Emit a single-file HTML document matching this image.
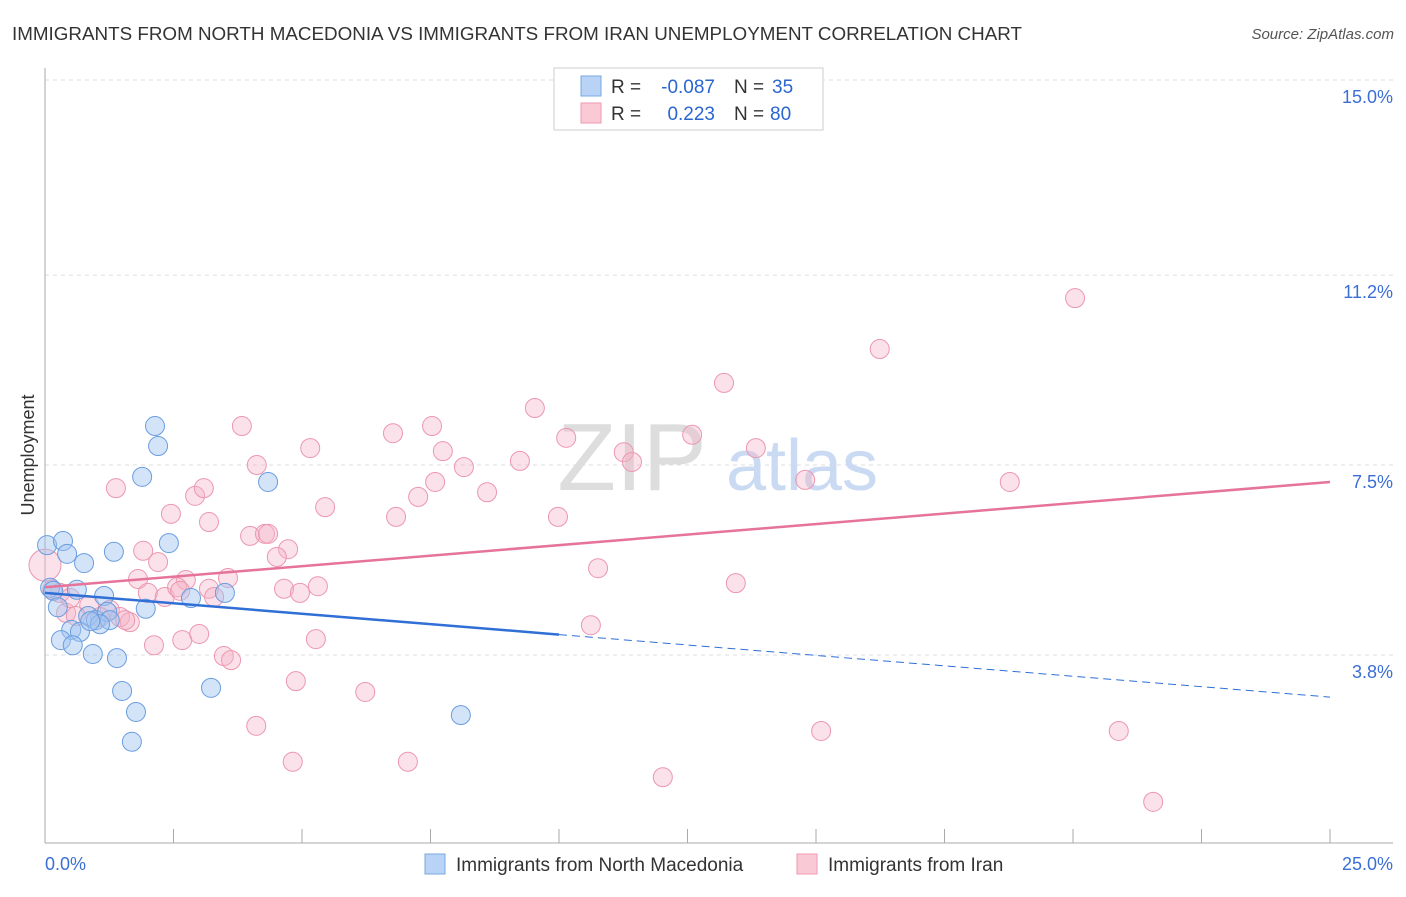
<!DOCTYPE html>
<html><head><meta charset="utf-8"><style>
body{margin:0;background:#fff;font-family:"Liberation Sans",sans-serif;}
svg text{font-family:"Liberation Sans",sans-serif;}
</style></head><body>
<svg width="1406" height="892" xmlns="http://www.w3.org/2000/svg">
<text x="12" y="40" font-size="18" fill="#333" textLength="1010" lengthAdjust="spacingAndGlyphs">IMMIGRANTS FROM NORTH MACEDONIA VS IMMIGRANTS FROM IRAN UNEMPLOYMENT CORRELATION CHART</text>
<text x="1394" y="39" font-size="15" fill="#555" text-anchor="end" font-style="italic">Source: ZipAtlas.com</text>
<g id="grid"></g>
<text x="632" y="490" font-size="96" font-family="Liberation Serif" fill="#ddd" text-anchor="middle">ZIP</text>
<text x="802" y="490" font-size="72" fill="#c9daf2" text-anchor="middle">atlas</text>
<text transform="translate(34,455) rotate(-90)" font-size="18" fill="#333" text-anchor="middle">Unemployment</text>
<g id="pts"></g>
<g id="lines"></g>
<g>
<rect x="554" y="68" width="269" height="62" fill="#fff" stroke="#ccc"/>
<rect x="581" y="76" width="20" height="20" fill="#b8d3f5" stroke="#7aa7e2"/>
<rect x="581" y="103" width="20" height="20" fill="#f9c9d6" stroke="#ee9ab3"/>
<text x="611" y="93" font-size="19" fill="#333">R =</text>
<text x="715" y="93" font-size="19" fill="#2a66cf" text-anchor="end">-0.087</text>
<text x="734" y="93" font-size="19" fill="#333">N =</text>
<text x="772" y="93" font-size="19" fill="#2a66cf">35</text>
<text x="611" y="120" font-size="19" fill="#333">R =</text>
<text x="715" y="120" font-size="19" fill="#2a66cf" text-anchor="end">0.223</text>
<text x="734" y="120" font-size="19" fill="#333">N =</text>
<text x="770" y="120" font-size="19" fill="#2a66cf">80</text>
</g>
<text x="45" y="870" font-size="18" fill="#3b6fd6">0.0%</text>
<text x="1393" y="870" font-size="18" fill="#3b6fd6" text-anchor="end">25.0%</text>
<g>
<rect x="425" y="854" width="20" height="20" fill="#b8d3f5" stroke="#7aa7e2"/>
<text x="456" y="871" font-size="19" fill="#333">Immigrants from North Macedonia</text>
<rect x="797" y="854" width="20" height="20" fill="#f9c9d6" stroke="#ee9ab3"/>
<text x="828" y="871" font-size="19" fill="#333">Immigrants from Iran</text>
</g>
</svg>
<script>
const yTicks=[15.0,11.2,7.5,3.8];
const yTickLabels=["15.0%","11.2%","7.5%","3.8%"];
const blueX=[0.04,0.35,0.43,0.76,1.34,2.14,2.20,1.89,2.41,4.34,0.10,0.16,0.62,1.15,0.25,0.84,0.99,1.21,1.26,1.07,0.51,0.68,0.31,0.54,0.93,1.40,1.96,2.84,3.50,1.50,3.23,1.77,1.69,8.09,0.88];
const blueY=[5.94,6.02,5.77,5.59,5.81,8.26,7.87,7.27,5.98,7.17,5.11,5.05,5.07,4.95,4.73,4.56,4.48,4.64,4.48,4.40,4.29,4.25,4.09,3.99,3.82,3.74,4.70,4.91,5.01,3.10,3.16,2.69,2.11,2.63,4.46];
const pinkX=[0,0.14,0.29,0.86,0.41,0.60,1.26,1.46,1.65,1.38,1.91,2.20,2.45,2.92,3.09,3.19,3.83,4.12,3.99,4.28,4.34,4.73,4.51,5.16,5.45,6.77,7.53,7.74,8.15,7.59,7.26,6.83,8.60,9.24,9.53,10.14,9.98,11.26,11.42,12.59,13.21,13.83,14.79,16.24,18.77,20.04,10.76,13.44,10.62,1.81,2.00,2.33,2.74,2.57,3.19,3.29,3.56,4.65,4.96,5.31,2.12,2.67,3.00,3.48,3.62,5.27,4.88,6.23,4.11,4.82,7.06,12.02,15.10,20.89,21.56,1.07,1.56,0.49,2.63];
const pinkY=[5.55,5.07,5.01,4.77,4.62,4.56,4.68,4.54,4.44,7.05,5.83,5.61,6.55,6.90,7.05,6.39,8.26,7.50,6.12,6.16,6.16,5.86,5.71,7.83,6.68,8.12,8.26,7.77,7.46,7.17,6.88,6.49,6.97,7.58,8.61,8.03,6.49,7.75,7.56,8.09,9.10,7.83,7.21,9.76,7.17,10.75,5.49,5.20,4.38,5.28,5.01,4.93,5.26,5.12,5.09,4.93,5.30,5.09,5.01,5.14,3.99,4.09,4.21,3.78,3.70,4.11,3.29,3.08,2.42,1.72,1.72,1.42,2.32,2.32,0.94,4.54,4.48,4.91,5.05];
const blueTrend=[5.01,2.98];
const pinkTrend=[5.12,7.17];
const blueSolidEnd=10;
const NS="http://www.w3.org/2000/svg";
const X=v=>45+v/25*1285;
const Y=v=>655-(v-3.8)*51.34;
function mk(t,a,p){const e=document.createElementNS(NS,t);for(const k in a)e.setAttribute(k,a[k]);p.appendChild(e);return e;}
const grid=document.getElementById('grid');
yTicks.forEach((t,i)=>{
 const l=mk('line',{x1:45,x2:1393,y1:Y(t),y2:Y(t),stroke:'#ddd','stroke-dasharray':'4,4'},grid);
 
 
 const tx=mk('text',{x:1393,y:Y(t)+23,'font-size':18,fill:'#3b6fd6','text-anchor':'end'},grid);
 tx.textContent=yTickLabels[i];
 
 
});
mk('line',{x1:45,x2:45,y1:68,y2:843,stroke:'#aaa'},grid);
mk('line',{x1:45,x2:1393,y1:843,y2:843,stroke:'#aaa'},grid);
for(let i=1;i<=10;i++){const t=mk('line',{x1:X(i*2.5),x2:X(i*2.5),y1:829,y2:843,stroke:'#aaa'},grid);
 
 }
const pts=document.getElementById('pts');
pinkX.forEach((x,i)=>{const c=mk('circle',{cx:X(x),cy:Y(pinkY[i]),r:i==0?16:9.5,fill:'rgba(246,180,200,0.4)',stroke:'#ec97b0','stroke-width':1},pts);
 
 });
blueX.forEach((x,i)=>{const c=mk('circle',{cx:X(x),cy:Y(blueY[i]),r:9.5,fill:'rgba(160,195,240,0.45)',stroke:'#6a9de0','stroke-width':1},pts);
 
 });
const ln=document.getElementById('lines');
const by=v=>blueTrend[0]+(blueTrend[1]-blueTrend[0])*v/25;
let l1=mk('line',{x1:X(0),y1:Y(by(0)),x2:X(blueSolidEnd),y2:Y(by(blueSolidEnd)),stroke:'#2f6fd6','stroke-width':2.5},ln);


let l2=mk('line',{x1:X(blueSolidEnd),y1:Y(by(blueSolidEnd)),x2:X(25),y2:Y(by(25)),stroke:'#2f6fd6','stroke-width':1,'stroke-dasharray':'8,5'},ln);


let l3=mk('line',{x1:X(0),y1:Y(pinkTrend[0]),x2:X(25),y2:Y(pinkTrend[1]),stroke:'#e6739a','stroke-width':2.5},ln);


</script>
</body></html>
